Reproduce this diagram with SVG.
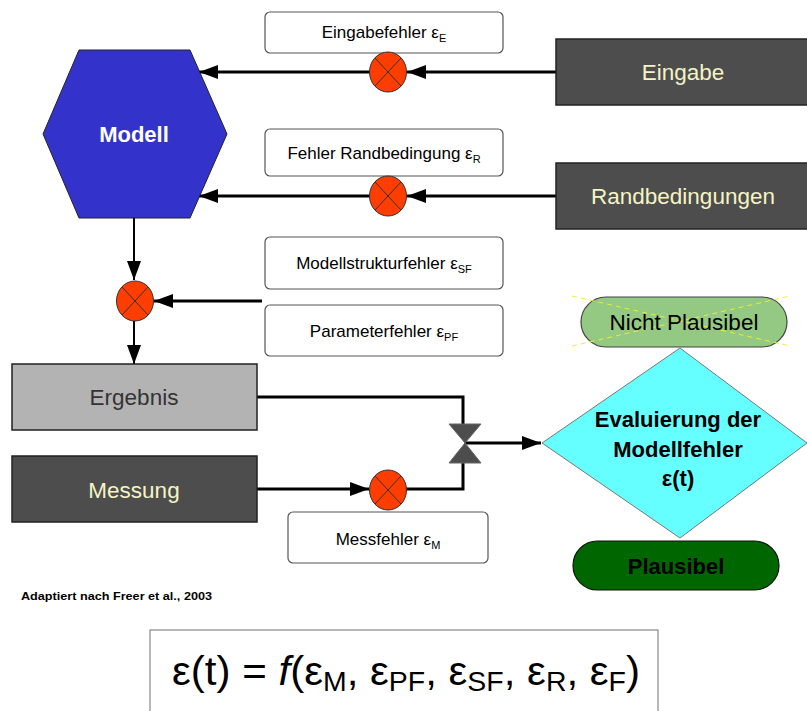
<svg xmlns="http://www.w3.org/2000/svg" width="807" height="711" viewBox="0 0 807 711">
<style>
text{font-family:"Liberation Sans",Arial,sans-serif}
.lbl{fill:#fff;stroke:#555;stroke-width:1.2}
.lt{font-size:17px;fill:#000;text-anchor:middle}
.sub{font-size:11px}
.dark{fill:#4d4d4d;stroke:#222;stroke-width:1.5}
.yt{font-size:22.5px;fill:#f4f4c4;text-anchor:middle}
.x{fill:#ff3d00;stroke:#333;stroke-width:1}
.xl{stroke:#333;stroke-width:1}
.con{fill:none;stroke:#000;stroke-width:3}
.thin{fill:none;stroke:#000;stroke-width:2}
.dt{font-size:22px;font-weight:bold;fill:#000;text-anchor:middle}
</style>
<defs>
<marker id="ah" markerUnits="userSpaceOnUse" markerWidth="20" markerHeight="14" refX="19" refY="7" orient="auto">
<path d="M0,0 L19,7 L0,14 z" fill="#000"/>
</marker>
<g id="xsym">
<ellipse cx="0" cy="0" rx="18.5" ry="20" class="x"/>
<line x1="-13" y1="-14" x2="13" y2="14" class="xl"/>
<line x1="-13" y1="14" x2="13" y2="-14" class="xl"/>
</g>
</defs>

<g id="connectors">
<path class="con" d="M556,72 L407,72" marker-end="url(#ah)"/>
<path class="con" d="M370,72 L199,72" marker-end="url(#ah)"/>
<path class="con" d="M556,196 L407,196" marker-end="url(#ah)"/>
<path class="con" d="M370,196 L199,196" marker-end="url(#ah)"/>
<path class="thin" d="M134,218 L134,280" marker-end="url(#ah)"/>
<path class="con" d="M262,301 L154,301" marker-end="url(#ah)"/>
<path class="thin" d="M134,321 L134,364" marker-end="url(#ah)"/>
<path class="con" d="M257,397 L463,397 L463,424"/>
<path class="con" d="M257,489 L369,489" marker-end="url(#ah)"/>
<path class="con" d="M406,489 L463,489 L463,463"/>
<path class="con" d="M464,443 L541,443" marker-end="url(#ah)"/>
</g>

<g id="modell">
<polygon points="79,50 190,50 227,134 190,218 79,218 43,134" fill="#3333cc" stroke="#222" stroke-width="1"/>
<text x="134" y="142" font-size="22" font-weight="bold" fill="#fff" text-anchor="middle">Modell</text>
</g>

<g id="eingabefehler">
<rect class="lbl" x="265" y="12" width="238" height="41" rx="5"/>
<text class="lt" x="384" y="38">Eingabefehler ε<tspan class="sub" dy="4">E</tspan></text>
</g>
<g id="randfehler">
<rect class="lbl" x="265" y="129" width="238" height="47" rx="5"/>
<text class="lt" x="384" y="159">Fehler Randbedingung ε<tspan class="sub" dy="4">R</tspan></text>
</g>
<g id="strukturfehler">
<rect class="lbl" x="265" y="237" width="238" height="52" rx="5"/>
<text class="lt" x="384" y="269">Modellstrukturfehler ε<tspan class="sub" dy="4">SF</tspan></text>
</g>
<g id="parameterfehler">
<rect class="lbl" x="265" y="305" width="238" height="51" rx="5"/>
<text class="lt" x="384" y="337">Parameterfehler ε<tspan class="sub" dy="4">PF</tspan></text>
</g>
<g id="messfehler">
<rect class="lbl" x="288" y="512" width="200" height="51" rx="5"/>
<text class="lt" x="388" y="545">Messfehler ε<tspan class="sub" dy="4">M</tspan></text>
</g>

<g id="eingabe">
<rect class="dark" x="556" y="39" width="255" height="66"/>
<text class="yt" x="683" y="80">Eingabe</text>
</g>
<g id="randbedingungen">
<rect class="dark" x="556" y="163" width="255" height="66"/>
<text class="yt" x="683" y="204">Randbedingungen</text>
</g>

<g id="x1"><use href="#xsym" x="388" y="72"/></g>
<g id="x2"><use href="#xsym" x="388" y="196"/></g>
<g id="x3"><use href="#xsym" x="135" y="301"/></g>
<g id="x4"><use href="#xsym" x="388" y="490"/></g>

<g id="ergebnis">
<rect x="12" y="364" width="245" height="66" fill="#b3b3b3" stroke="#222" stroke-width="1.5"/>
<text x="134" y="405" font-size="22.5" fill="#333" text-anchor="middle">Ergebnis</text>
</g>
<g id="messung">
<rect class="dark" x="12" y="456" width="245" height="66"/>
<text class="yt" x="134" y="498">Messung</text>
</g>

<g id="ventil">
<polygon points="449,424 481,424 465,443" fill="#4d4d4d" stroke="#666" stroke-width="1"/>
<polygon points="465,443 449,463 481,463" fill="#4d4d4d" stroke="#666" stroke-width="1"/>
</g>

<g id="nichtplausibel">
<rect x="581" y="297" width="206" height="50" rx="25" fill="#93c983" stroke="#444" stroke-width="1.2"/>
<line x1="572" y1="296" x2="790" y2="346" stroke="#eeee33" stroke-width="1" stroke-dasharray="5,4"/>
<line x1="572" y1="346" x2="790" y2="296" stroke="#eeee33" stroke-width="1" stroke-dasharray="5,4"/>
<text x="684" y="330" font-size="22.5" fill="#000" text-anchor="middle">Nicht Plausibel</text>
</g>

<g id="evaluierung">
<polygon points="680,348 807,443 680,538 542,443" fill="#66ffff" stroke="#777" stroke-width="1"/>
<text class="dt" x="678" y="427">Evaluierung der</text>
<text class="dt" x="678" y="457">Modellfehler</text>
<text class="dt" x="678" y="486">ε(t)</text>
</g>

<g id="plausibel">
<rect x="573" y="541" width="206" height="49" rx="24.5" fill="#006600" stroke="#111" stroke-width="1.2"/>
<text x="676" y="574" font-size="22" font-weight="bold" fill="#000" text-anchor="middle">Plausibel</text>
</g>

<text x="21" y="600" font-size="11" font-weight="bold" fill="#000" textLength="191" lengthAdjust="spacingAndGlyphs">Adaptiert nach Freer et al., 2003</text>

<g id="formel">
<rect x="150" y="630" width="508" height="90" fill="#fff" stroke="#888" stroke-width="1.2"/>
<text x="406" y="685" font-size="40" fill="#000" text-anchor="middle" textLength="468" lengthAdjust="spacingAndGlyphs">ε(t) = <tspan font-style="italic">f</tspan>(ε<tspan font-size="27" dy="6">M</tspan><tspan dy="-6">, ε</tspan><tspan font-size="27" dy="6">PF</tspan><tspan dy="-6">, ε</tspan><tspan font-size="27" dy="6">SF</tspan><tspan dy="-6">, ε</tspan><tspan font-size="27" dy="6">R</tspan><tspan dy="-6">, ε</tspan><tspan font-size="27" dy="6">F</tspan><tspan dy="-6">)</tspan></text>
</g>
</svg>
